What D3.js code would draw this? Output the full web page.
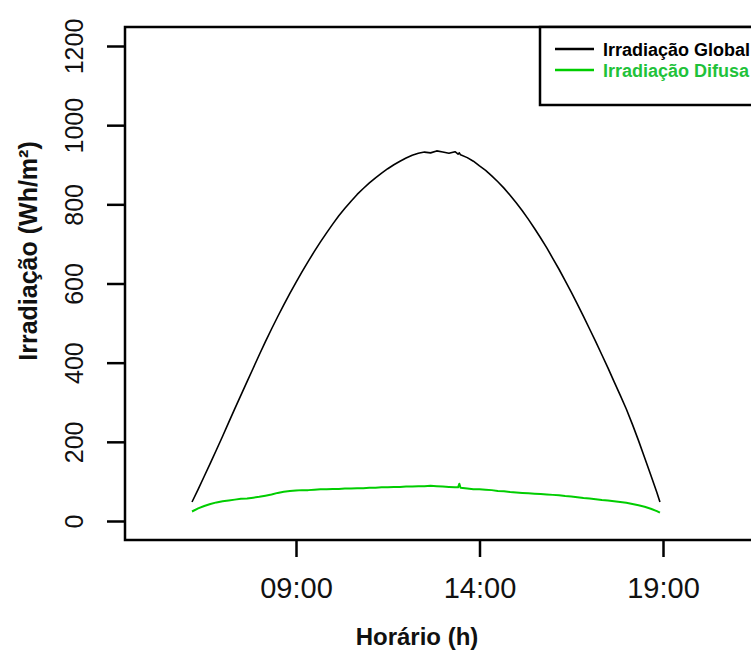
<!DOCTYPE html>
<html>
<head>
<meta charset="utf-8">
<script src="https://cdn.jsdelivr.net/npm/d3@7"></script>
<style>
	body { margin: 0; background: #fff; }
	svg { display: block; font-family: "Liberation Sans", Arial, sans-serif; }
</style>
</head>
<body>
<svg id="chart" width="751" height="650"></svg>
<script>
(function () {

// Sample times (HH:MM) shared by both series
var times = [
	"06:10","06:20","06:30","06:40","06:50","07:00","07:10","07:20","07:30","07:40","07:50",
	"08:00","08:10","08:20","08:30","08:40","08:50","09:00","09:10","09:20","09:30","09:40","09:50",
	"10:00","10:10","10:20","10:30","10:40","10:50","11:00","11:10","11:20","11:30","11:40","11:50",
	"12:00","12:10","12:20","12:30","12:40","12:50","13:00","13:10","13:20","13:25","13:27","13:29",
	"13:40","13:50","14:00","14:10","14:20","14:30","14:40","14:50","15:00","15:10","15:20","15:30",
	"15:40","15:50","16:00","16:10","16:20","16:30","16:40","16:50","17:00","17:10","17:20","17:30",
	"17:40","17:50","18:00","18:10","18:20","18:30","18:40","18:50","18:55"
];

var globalValues = [
	48, 80, 113, 146, 180, 214, 249, 284, 318, 352, 386,
	420, 453, 485, 516, 546, 575, 603, 630, 656, 681, 705, 728,
	750, 771, 790, 808, 825, 840, 854, 867, 879, 890, 900, 909,
	917, 924, 929, 932, 930, 935, 932, 929, 933, 927, 930, 925,
	918, 909, 897, 886, 872, 857, 841, 823, 804, 784, 762, 739,
	715, 690, 663, 636, 607, 578, 548, 517, 485, 453, 420, 387,
	352, 318, 283, 244, 203, 160, 116, 72, 48
];

var diffuseValues = [
	24, 32, 38, 43, 47, 50, 52, 54, 56, 57, 59,
	61, 64, 67, 71, 74, 76, 77, 78, 78, 79, 80, 80,
	81, 81, 82, 82, 83, 83, 84, 84, 85, 85, 86, 86,
	87, 87, 88, 88, 89, 88, 87, 86, 85, 85, 94, 84,
	82, 80, 80, 79, 78, 76, 75, 73, 72, 71, 70, 69,
	68, 67, 66, 65, 63, 62, 60, 58, 57, 55, 53, 52,
	50, 48, 46, 43, 40, 36, 31, 25, 21
];

var yTicks = [0, 200, 400, 600, 800, 1000, 1200];
var xTicks = ["09:00", "14:00", "19:00"];

var seriesNames = ["Irradiação Global", "Irradiação Difusa"];
var seriesColors = ["#000000", "#00cd00"];
var legendTextColors = ["#000000", "#1fc23a"];

var parseTime = d3.utcParse("%H:%M");

var svg = d3.select('#chart');
// The plot box runs off the right edge of the picture
var box = { left: 125, top: 27, bottom: 540, right: 830 };

// x: time of day, anchored on the first and last labelled ticks
var x = d3.scaleUtc()
	.domain([parseTime("09:00"), parseTime("19:00")])
	.range([296, 663]);

var y = d3.scaleLinear()
	.domain([-48, 1248])
	.range([box.bottom, box.top]);

var series = [globalValues, diffuseValues].map(function (values, i) {
	return {
		name: seriesNames[i],
		color: seriesColors[i],
		points: times.map(function (t, j) { return { t: parseTime(t), v: values[j] }; })
	};
});

var line = d3.line()
	.x(function (d) { return x(d.t); })
	.y(function (d) { return y(d.v); });

// Curves
svg.append('g').attr('class', 'series')
	.selectAll('path')
	.data(series)
	.enter().append('path')
	.attr('d', function (d) { return line(d.points); })
	.attr('fill', 'none')
	.attr('stroke', function (d) { return d.color; })
	.attr('stroke-width', function (d, i) { return i === 0 ? 1.6 : 2; })
	.attr('stroke-linejoin', 'round');

// Y axis with rotated labels
var yAxis = svg.append('g')
	.attr('transform', 'translate(' + box.left + ',0)')
	.call(d3.axisLeft(y).tickValues(yTicks).tickFormat(d3.format('d')).tickSize(18).tickPadding(0));
yAxis.select('.domain').remove();
yAxis.selectAll('.tick line').attr('stroke-width', 2.5);
yAxis.selectAll('.tick text')
	.attr('x', null).attr('dy', null)
	.attr('text-anchor', 'middle')
	.attr('transform', 'translate(-42,0) rotate(-90)')
	.attr('font-size', 25)
	.attr('font-family', '"Liberation Sans", Arial, sans-serif')
	.attr('fill', '#111');

// X axis
var xAxis = svg.append('g')
	.attr('transform', 'translate(0,' + box.bottom + ')')
	.call(d3.axisBottom(x)
		.tickValues(xTicks.map(parseTime))
		.tickFormat(d3.utcFormat("%H:%M"))
		.tickSize(17)
		.tickPadding(0));
xAxis.select('.domain').remove();
xAxis.selectAll('.tick line').attr('stroke-width', 2.5);
xAxis.selectAll('.tick text')
	.attr('y', 58).attr('dy', null)
	.attr('font-size', 29)
	.attr('font-family', '"Liberation Sans", Arial, sans-serif')
	.attr('fill', '#111');

// Plot box
svg.append('rect')
	.attr('x', box.left).attr('y', box.top)
	.attr('width', box.right - box.left).attr('height', box.bottom - box.top)
	.attr('fill', 'none')
	.attr('stroke', '#000')
	.attr('stroke-width', 2.5);

// Axis titles
svg.append('text')
	.attr('x', 417).attr('y', 645)
	.attr('text-anchor', 'middle')
	.attr('font-weight', 'bold')
	.attr('font-size', 24)
	.attr('fill', '#111')
	.text('Horário (h)');

svg.append('text')
	.attr('transform', 'translate(37,251) rotate(-90)')
	.attr('text-anchor', 'middle')
	.attr('font-weight', 'bold')
	.attr('font-size', 25)
	.attr('fill', '#111')
	.text('Irradiação (Wh/m²)');

// Legend
var legend = svg.append('g').attr('class', 'legend');
legend.append('rect')
	.attr('x', 540).attr('y', box.top)
	.attr('width', 300).attr('height', 78)
	.attr('fill', '#fff')
	.attr('stroke', '#000')
	.attr('stroke-width', 2.5);

var items = legend.selectAll('g.item')
	.data(series)
	.enter().append('g')
	.attr('class', 'item')
	.attr('transform', function (d, i) { return 'translate(0,' + (49 + i * 21) + ')'; });

items.append('line')
	.attr('x1', 555).attr('x2', 594)
	.attr('stroke', function (d) { return d.color; })
	.attr('stroke-width', 2.5);

items.append('text')
	.attr('x', 603).attr('y', 7)
	.attr('font-weight', 'bold')
	.attr('font-size', 18)
	.attr('fill', function (d, i) { return legendTextColors[i]; })
	.text(function (d) { return d.name; });

})();
</script>
</body>
</html>
